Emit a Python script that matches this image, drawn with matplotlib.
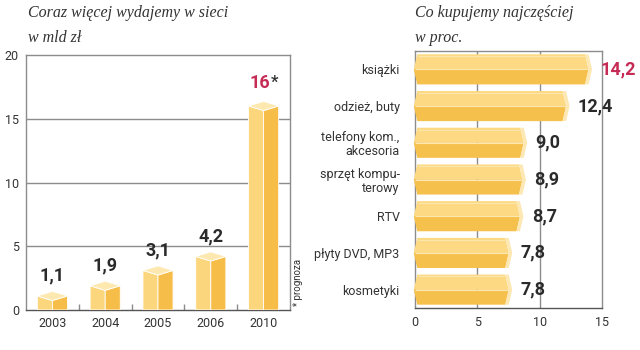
import matplotlib
matplotlib.use("Agg")
import matplotlib.pyplot as plt
from matplotlib.patches import Polygon

# ---- data ----
years = ["2003", "2004", "2005", "2006", "2010"]
spend = [1.1, 1.9, 3.1, 4.2, 16]
spend_labels = ["1,1", "1,9", "3,1", "4,2", "16"]

cats = ["książki", "odzież, buty", "telefony kom.,\nakcesoria",
        "sprzęt kompu-\nterowy", "RTV", "płyty DVD, MP3", "kosmetyki"]
shares = [14.2, 12.4, 9.0, 8.9, 8.7, 7.8, 7.8]
share_labels = ["14,2", "12,4", "9,0", "8,9", "8,7", "7,8", "7,8"]

left_ticks = [0, 5, 10, 15, 20]
right_ticks = [0, 5, 10, 15]

# ---- style ----
SANS = ["Roboto", "DejaVu Sans"]
SERIF = ["Liberation Serif", "DejaVu Serif"]
TXT = "#333333"
GRID = "#8c8c8c"
RED = "#c62b55"
C_LEFT = "#fcd67c"
C_RIGHT = "#f6bd48"
C_TOP = "#fde8b0"
C_UP = "#fcd982"
C_DOWN = "#f6c04c"
C_CAP = "#fde8b4"

W, H = 640, 350
fig = plt.figure(figsize=(6.4, 3.5), dpi=100)

def rect(l, t, r, b):
    return [l / W, 1 - b / H, (r - l) / W, (b - t) / H]

# ================= left chart =================
ax = fig.add_axes(rect(26, 55, 290, 310))
ax.set_xlim(-0.5, len(years) - 0.5)
ax.set_ylim(0, 20)
for s in ["left", "right", "top"]:
    ax.spines[s].set_color(GRID)
    ax.spines[s].set_linewidth(1)
ax.spines["bottom"].set_color("#555555")
ax.spines["bottom"].set_linewidth(1)
ax.set_yticks(left_ticks)
ax.set_yticklabels([str(t) for t in left_ticks], fontsize=9, color=TXT, family=SANS)
ax.set_xticks(range(len(years)))
ax.set_xticklabels(years, fontsize=9, color=TXT, family=SANS)
ax.tick_params(axis="both", length=0, pad=5)
ax.set_xticks([i + 0.5 for i in range(len(years) - 1)], minor=True)
ax.tick_params(axis="x", which="minor", direction="in", length=4, color=GRID, width=1)
for t in left_ticks[1:-1]:
    ax.axhline(t, color=GRID, lw=1, zorder=0)

w = 0.285
d = 0.36
for i, v in enumerate(spend):
    lf = Polygon([(i - w, 0), (i, 0), (i, v - d), (i - w, v)], closed=True,
                 fc=C_LEFT, ec="white", lw=0.6, zorder=3)
    rf = Polygon([(i, 0), (i + w, 0), (i + w, v), (i, v - d)], closed=True,
                 fc=C_RIGHT, ec="white", lw=0.6, zorder=3)
    tp = Polygon([(i - w, v), (i, v - d), (i + w, v), (i, v + d)], closed=True,
                 fc=C_TOP, ec="white", lw=0.6, zorder=4)
    for p in (lf, rf, tp):
        ax.add_patch(p)
    if i == len(spend) - 1:
        ax.annotate(spend_labels[i], (i, v), xytext=(5, 10), textcoords="offset points",
                    ha="right", va="bottom", fontsize=13, fontweight="bold",
                    color=RED, family=SANS)
        ax.annotate("*", (i, v), xytext=(5.5, 12), textcoords="offset points",
                    ha="left", va="bottom", fontsize=12, fontweight="bold",
                    color=TXT, family=SANS)
    else:
        ax.annotate(spend_labels[i], (i, v), xytext=(0, 8), textcoords="offset points",
                    ha="center", va="bottom", fontsize=13, fontweight="bold",
                    color="#2a2a2a", family=SANS)

fig.text(298 / W, 1 - 306 / H, "* prognoza", rotation=90, ha="center", va="bottom",
         fontsize=7, color=TXT, family=SANS)

fig.text(28 / W, 1 - 13 / H, "Coraz więcej wydajemy w sieci", ha="left", va="center",
         fontsize=11.5, style="italic", color=TXT, family=SERIF)
fig.text(28 / W, 1 - 38 / H, "w mld zł", ha="left", va="center",
         fontsize=11.5, style="italic", color=TXT, family=SERIF)

# ================= right chart =================
bx = fig.add_axes(rect(415, 51, 602, 308))
bx.set_xlim(0, 15)
bx.set_ylim(len(cats) - 0.5, -0.5)
for s in ["left", "right", "top", "bottom"]:
    bx.spines[s].set_color(GRID)
    bx.spines[s].set_linewidth(1)
    bx.spines[s].set_zorder(0)
bx.spines["bottom"].set_color("#555555")
bx.set_xticks(right_ticks)
bx.set_xticklabels([str(t) for t in right_ticks], fontsize=9, color=TXT, family=SANS)
bx.set_yticks(range(len(cats)))
bx.set_yticklabels(cats, fontsize=9, color=TXT, family=SANS, linespacing=1.05)
bx.tick_params(axis="y", length=0, pad=11)
bx.tick_params(axis="x", length=0, pad=6)
for t in right_ticks[1:-1]:
    bx.axvline(t, color=GRID, lw=1, zorder=0)

h = 0.41
p = 0.28
for i, v in enumerate(shares):
    c = i
    up = Polygon([(-0.1, c), (p - 0.1, c - h), (v - 2 * p, c - h), (v - p, c)], closed=True,
                 fc=C_UP, ec="none", zorder=3)
    dn = Polygon([(-0.1, c), (p - 0.1, c + h), (v - 2 * p, c + h), (v - p, c)], closed=True,
                 fc=C_DOWN, ec="none", zorder=3)
    cap = Polygon([(v - 2 * p, c - h), (v - p, c - h), (v, c), (v - p, c + h),
                   (v - 2 * p, c + h), (v - p, c)], closed=True,
                  fc=C_CAP, ec="none", zorder=3)
    for q in (up, dn, cap):
        q.set_clip_on(False)
        bx.add_patch(q)
    bx.plot([0, v - p], [c, c], color="#fde7b0", lw=0.8, zorder=4, solid_capstyle="butt")
    bx.plot([p, v - 2 * p], [c - h + 0.05, c - h + 0.05], color="#fde6ac", lw=0.8,
            zorder=4, solid_capstyle="butt")
    bx.annotate(share_labels[i], (v, c), xytext=(6, 0), textcoords="offset points",
                ha="left", va="center", fontsize=13, fontweight="bold",
                color=RED if i == 0 else "#2a2a2a", family=SANS, annotation_clip=False)

fig.text(415 / W, 1 - 13 / H, "Co kupujemy najczęściej", ha="left", va="center",
         fontsize=11.5, style="italic", color=TXT, family=SERIF)
fig.text(415 / W, 1 - 38 / H, "w proc.", ha="left", va="center",
         fontsize=11.5, style="italic", color=TXT, family=SERIF)

fig.savefig("out.png", dpi=100, facecolor="white")
